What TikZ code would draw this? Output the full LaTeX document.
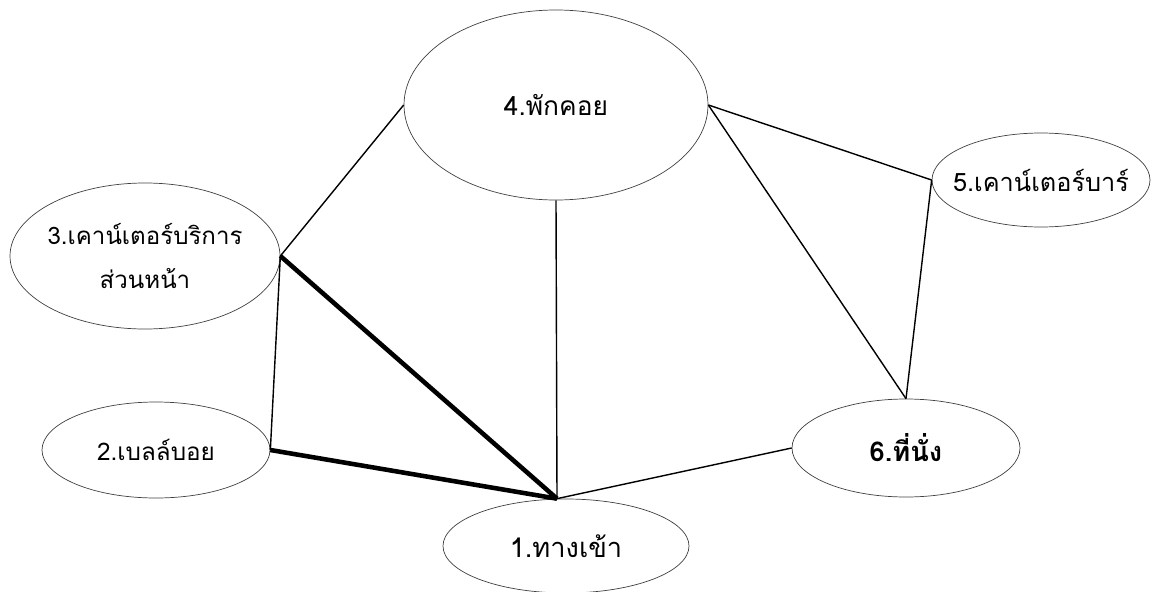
\documentclass[tikz,border=0pt]{standalone}
\usepackage{fontspec}
\newfontfamily\thaifont[Script=Thai]{Loma}
\usetikzlibrary{shapes.geometric}
\begin{document}
\begin{tikzpicture}[
	place/.style={ ellipse, draw=black!75, thin, inner sep=-0.6cm, font=\thaifont\fontsize{14}{17}\selectfont, align=center },
	link/.style={ black, line width=0.8pt },
	mainlink/.style={ black, line width=2.6pt }
]
\useasboundingbox (0,0) rectangle (23.06,11.82);

\node at (11.12,9.72) (rest) [place,minimum width=6.08cm,minimum height=3.8cm,font=\thaifont\fontsize{15}{18}\selectfont] {\raisebox{-0.24cm}{4.พักคอย}};
\node at (2.9,6.70) (front) [place,minimum width=5.4cm,minimum height=2.92cm,font=\thaifont\fontsize{13.7}{25}\selectfont] {3.เคาน์เตอร์บริการ\\ส่วนหน้า};
\node at (20.82,8.22) (bar) [place,minimum width=4.36cm,minimum height=1.88cm,font=\thaifont\fontsize{14.4}{17}\selectfont] {5.เคาน์เตอร์บาร์};
\node at (3.12,2.82) (bell) [place,minimum width=4.56cm,minimum height=1.92cm,font=\thaifont\fontsize{13.8}{17}\selectfont] {2.เบลล์บอย};
\node at (11.32,0.90) (entry) [place,minimum width=4.92cm,minimum height=1.88cm,font=\thaifont\fontsize{15.5}{18}\selectfont] {\raisebox{-0.3cm}{1.ทางเข้า}};
\node at (18.12,2.86) (seat) [place,minimum width=4.56cm,minimum height=1.96cm,font=\thaifont\bfseries\fontsize{15.5}{19}\selectfont] {6.ที่นั่ง};
\coordinate (gate) at ([xshift=-0.18cm]entry.north);

\foreach \a/\b in {front.east/rest.west,front.east/bell.east,rest.south/gate,rest.east/bar.west,rest.east/seat.north,bar.west/seat.north,gate/seat.west}
  \draw[link] (\a) -- (\b);
\foreach \a in {front.east,bell.east}
  \draw[mainlink] (\a) -- (gate);

\end{tikzpicture}
\end{document}
